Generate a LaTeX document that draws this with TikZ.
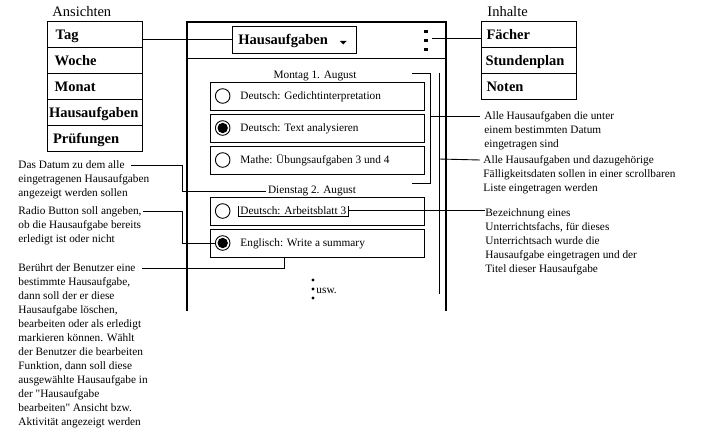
\documentclass[tikz,border=0pt]{standalone}
\usepackage{fontspec}
\setmainfont{Liberation Serif}
\begin{document}
\begin{tikzpicture}[x=1pt,y=-1pt,line width=0.9pt,
    menubox/.style={draw,minimum width=95pt,minimum height=26pt,inner sep=0pt},
    menutext/.style={anchor=base west,inner sep=0pt,font=\fontsize{14.5}{17}\selectfont\bfseries},
    kopf/.style={anchor=base west,inner sep=0pt,font=\fontsize{14.5}{17}\selectfont},
    itembox/.style={draw,minimum width=214pt,minimum height=28pt,inner sep=0pt},
    radio/.style={draw,circle,minimum size=14.6pt,inner sep=0pt},
    itemtext/.style={anchor=base west,inner sep=0pt,font=\fontsize{11.3}{14}\selectfont},
    notiz/.style={anchor=north west,inner sep=0pt,align=left,font=\fontsize{11.3}{14}\selectfont}]
    \useasboundingbox (0,0) rectangle (728,436);
    % Ansichten
    \node[kopf] (ansichten) at (52,17) {Ansichten};
    \foreach \lbl/\dx [count=\i from 0] in {Tag/8.7,Woche/7.7,Monat/7.7,Hausaufgaben/2,Prüfungen/6}{
      \node[menubox] (ans\i) at (94.5,34+26*\i) {};
      \node[menutext] at ([xshift=\dx pt,yshift=-5.3pt]ans\i.west) {\lbl};
    }
    % Inhalte
    \node[kopf] (inhalte) at (487,16.5) {Inhalte};
    \foreach \lbl/\dx [count=\i from 0] in {Fächer/5.5,Stundenplan/4.5,Noten/5.5}{
      \node[menubox] (inh\i) at (528.5,34+26*\i) {};
      \node[menutext] at ([xshift=\dx pt,yshift=-5.3pt]inh\i.west) {\lbl};
    }
    % Geraet
    \draw[line width=2.2pt] (187,311) |- (446,22) -- (446,311);
    \draw (187,58) -- (446,58);
    \node[draw,minimum width=124pt,minimum height=27pt,inner sep=0pt] (titel) at (294,39.5) {};
    \node[menutext] at (238,45) {Hausaufgaben};
    \fill (340,41)--++(6.5,0)--++(-3.25,3.5)--cycle;
    \foreach \y in {30,39,48} \fill (424,\y) rectangle ++(4,3);
    \coordinate (punkte) at (432,38);
    \draw (ans0.east |- titel.west) -- (titel.west);
    \draw (punkte) -- (punkte -| inh0.west);
    % Liste
    \node[itemtext,anchor=base] (montag) at (315,78) {Montag 1. August};
    \node[itemtext,anchor=base,inner sep=2pt] (dienstag) at (312,193.5) {Dienstag 2. August};
    \foreach \y/\fach/\an [count=\i] in {96/{Deutsch: Gedichtinterpretation}/0,128/{Deutsch: Text analysieren}/1,
        160/{Mathe: Übungsaufgaben 3 und 4}/0,211/{Deutsch: Arbeitsblatt 3}/0,243/{Englisch: Write a summary}/1}{
      \node[itembox] (a\i) at (317,\y) {};
      \node[radio] (r\i) at (222.7,\y) {};
      \ifnum\an=1 \fill (r\i) circle (5.2);\fi
      \node[itemtext] (t\i) at (240,\y+3.2) {\fach};
    }
    \foreach \y in {280,289,298} \fill (313,\y) circle (1.6);
    \node[itemtext] (usw) at (316,293) {usw.};
    \draw ([xshift=-2pt]t4.north west) |- ([xshift=2pt,yshift=-1.5pt]t4.south east) -- ([xshift=2pt]t4.north east);
    \draw (412,73) -| (430,183) -- (412,183);
    \draw (439,73) -- (439,294);
    \coordinate (klammer) at (430,116);
    \coordinate (scroll) at (439,159);
    % Notizen links
    \node[notiz] (datum) at (18,160.4) {Das Datum zu dem alle\\eingetragenen Hausaufgaben\\angezeigt werden sollen};
    \node[notiz] (radiotext) at (18,206.4) {Radio Button soll angeben,\\ob die Hausaufgabe bereits\\erledigt ist oder nicht};
    \node[notiz] (beruehrt) at (18,263.4) {Berührt der Benutzer eine\\bestimmte Hausaufgabe,\\dann soll der er diese\\Hausaufgabe löschen,\\bearbeiten oder als erledigt\\markieren können. Wählt\\der Benutzer die bearbeiten\\Funktion, dann soll diese\\ausgewählte Hausaufgabe in\\der \textquotedbl Hausaufgabe\\bearbeiten\textquotedbl{} Ansicht bzw.\\Aktivität angezeigt werden};
    \coordinate (d1) at (131,165);
    \coordinate (d2) at (143,211);
    \coordinate (d3) at (142,268);
    \draw (d1) -- ++(51,0) |- (dienstag.west);
    \draw (d2) -- ++(39,0) |- (r5.west);
    \draw (d3) -| ([xshift=-33pt]a5.south);
    % Notizen rechts
    \node[notiz] (alleDatum) at (484,111.4) {Alle Hausaufgaben die unter\\einem bestimmten Datum\\eingetragen sind};
    \node[notiz] (liste) at (483,155.4) {Alle Hausaufgaben und dazugehörige\\Fälligkeitsdaten sollen in einer scrollbaren\\Liste eingetragen werden};
    \node[notiz] (bez) at (485,208.4) {Bezeichnung eines\\Unterrichtsfachs, für dieses\\Unterrichtsach wurde die\\Hausaufgabe eingetragen und der\\Titel dieser Hausaufgabe};
    \draw (klammer) -- ([xshift=-4pt,yshift=-4.6pt]alleDatum.north west);
    \draw (scroll) -- ([xshift=-3pt,yshift=-4.6pt]liste.north west);
    \draw ([xshift=2pt]t4.east) -- (t4.east -| bez.west);
\end{tikzpicture}
\end{document}
